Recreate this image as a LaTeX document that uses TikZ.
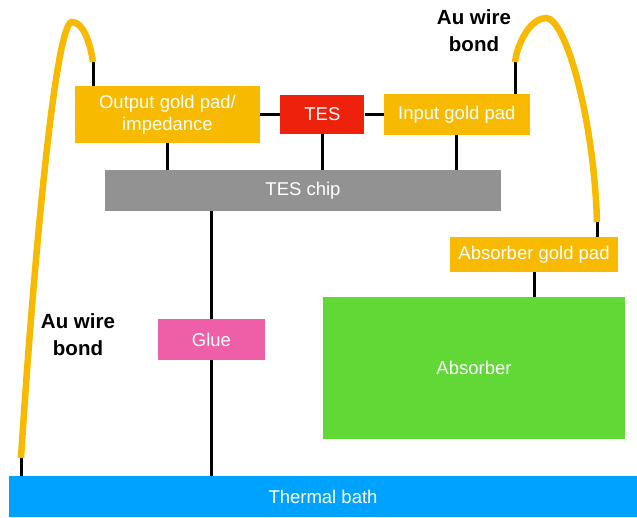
\documentclass[tikz,border=0pt]{standalone}
\usepackage{fontspec}
\setmainfont{Liberation Sans}
\usetikzlibrary{positioning}
\definecolor{padgold}{HTML}{F8BA00}
\definecolor{tesred}{HTML}{EE220C}
\definecolor{chipgray}{HTML}{929292}
\definecolor{gluepink}{HTML}{EF5FA7}
\definecolor{absgreen}{HTML}{61D836}
\definecolor{bathblue}{HTML}{00A2FF}
\tikzset{
  part/.style  ={draw=none,inner sep=0pt,align=center,text=white,font=\fontsize{18.5}{22}\selectfont},
  pad/.style   ={part,fill=padgold},
  link/.style  ={line width=3pt,black},
  bond/.style  ={line width=6.5pt,padgold,line cap=butt},
  tag/.style   ={align=center,font=\bfseries\fontsize{20.5}{27}\selectfont}
}

\begin{document}
\begin{tikzpicture}[x=1pt,y=-1pt]
    \useasboundingbox (0,0) rectangle (637,517);
    % detector stack
    \node[pad,minimum width=185pt,minimum height=57pt] (outpad) at (167.5,114.5) {Output gold pad/\\impedance};
    \node[part,fill=tesred,minimum width=84pt,minimum height=39pt,right=20pt of outpad] (tes) {TES};
    \node[pad,minimum width=146pt,minimum height=41pt,right=19pt of tes] (inpad) {Input gold pad};
    \node[part,fill=chipgray,minimum width=396pt,minimum height=41pt] (chip) at (303,190.5) {TES chip};
    \node[pad,minimum width=168pt,minimum height=35pt] (abspad) at (534,254.5) {Absorber gold pad};
    \node[part,fill=absgreen,minimum width=302pt,minimum height=142pt] (absorber) at (474,368) {Absorber};
    \node[part,fill=gluepink,minimum width=107pt,minimum height=41pt] (glue) at (211.5,339.5) {Glue};
    \node[part,fill=bathblue,minimum width=628pt,minimum height=41pt] (bath) at (323,496.5) {Thermal bath};
    % wire bond ends
    \coordinate (wl) at (93,62);
    \coordinate (wb) at (21,458);
    \coordinate (wr) at (515,62);
    \coordinate (wa) at (597,222);
    \node[tag] (tagtop) at (474,31) {Au wire\\bond};
    \node[tag] (tagleft) at (78,335) {Au wire\\bond};
    % connections
    \draw[link] (outpad) -- (tes);
    \draw[link] (tes) -- (inpad);
    \draw[link] (outpad) -- (outpad |- chip.north);
    \draw[link] (tes) -- (tes |- chip.north);
    \draw[link] (inpad) -- (inpad |- chip.north);
    \draw[link] (glue) -- (glue |- chip.south);
    \draw[link] (glue) -- (glue |- bath.north);
    \draw[link] (abspad) -- (abspad |- absorber.north);
    \draw[link] (wl) -- (wl |- outpad.north);
    \draw[link] (wr) -- (wr |- inpad.north);
    \draw[link] (wa) -- (wa |- abspad.north);
    \draw[link] (wb) -- (wb |- bath.north);
    % gold wire bonds
    \draw[bond] (wb) .. controls (31,300) and (54,22) .. (72,22)
                     .. controls (83,22) and (90,42) .. (wl);
    \draw[bond] (wr) .. controls (518,40) and (532,18) .. (546,18)
                     .. controls (566,18) and (594,120) .. (wa);
\end{tikzpicture}
\end{document}
